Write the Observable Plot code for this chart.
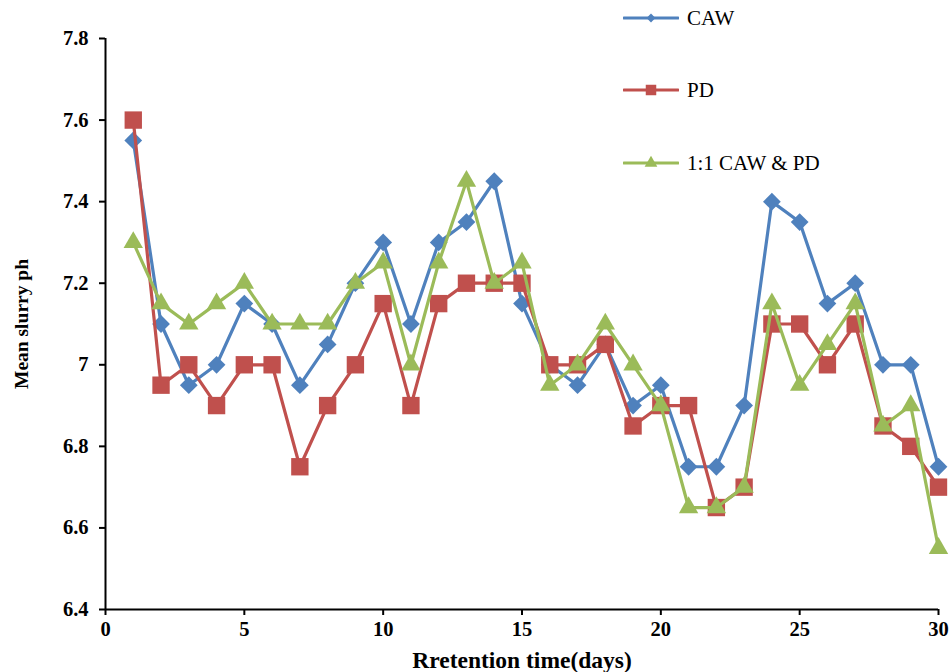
<!DOCTYPE html>
<html>
<head>
<meta charset="utf-8">
<script src="https://cdn.jsdelivr.net/npm/d3@7"></script>
<script src="https://cdn.jsdelivr.net/npm/@observablehq/plot@0.6"></script>
<style>
  html, body { margin: 0; padding: 0; background: #fff; }
  #wrap { position: relative; width: 949px; height: 672px; }
  #legend { position: absolute; left: 623px; top: 0; font-family: "Liberation Serif", "Times New Roman", serif; font-size: 21px; color: #000; }
  .item { position: absolute; left: 0; display: flex; align-items: center; white-space: nowrap; height: 30px; }
  .item svg { margin-right: 8px; }
</style>
</head>
<body>
<div id="wrap"><div id="legend"></div></div>
<script>
const days = [1,2,3,4,5,6,7,8,9,10,11,12,13,14,15,16,17,18,19,20,21,22,23,24,25,26,27,28,29,30];
const caw = [7.55,7.1,6.95,7.0,7.15,7.1,6.95,7.05,7.2,7.3,7.1,7.3,7.35,7.45,7.15,7.0,6.95,7.05,6.9,6.95,6.75,6.75,6.9,7.4,7.35,7.15,7.2,7.0,7.0,6.75];
const pd  = [7.6,6.95,7.0,6.9,7.0,7.0,6.75,6.9,7.0,7.15,6.9,7.15,7.2,7.2,7.2,7.0,7.0,7.05,6.85,6.9,6.9,6.65,6.7,7.1,7.1,7.0,7.1,6.85,6.8,6.7];
const mix = [7.3,7.15,7.1,7.15,7.2,7.1,7.1,7.1,7.2,7.25,7.0,7.25,7.45,7.2,7.25,6.95,7.0,7.1,7.0,6.9,6.65,6.65,6.7,7.15,6.95,7.05,7.15,6.85,6.9,6.55];
const seriesNames = ["CAW", "PD", "1:1 CAW & PD"];
const seriesColors = ["#4F81BD", "#C0504D", "#9BBB59"];
const seriesSymbols = ["diamond2", "square", "triangle"];
const seriesR = [8, 9.8, 7.2];
const xTicks = [0,5,10,15,20,25,30];
const yTicks = [6.4,6.6,6.8,7.0,7.2,7.4,7.6,7.8];
const xLabel = "Rretention time(days)";
const yLabel = "Mean slurry ph";

const seriesValues = [caw, pd, mix];
const marks = [];
seriesValues.forEach((vals, i) => {
  const rows = days.map((d, j) => ({day: d, ph: vals[j]}));
  marks.push(Plot.line(rows, {x: "day", y: "ph", stroke: seriesColors[i], strokeWidth: 3.2}));
  marks.push(Plot.dot(rows, {x: "day", y: "ph", fill: seriesColors[i], stroke: "none", symbol: () => seriesSymbols[i], r: seriesR[i]}));
});

const chart = Plot.plot({
  width: 949,
  height: 672,
  marginLeft: 105,
  marginRight: 11,
  marginTop: 38,
  marginBottom: 63,
  style: {fontFamily: "'Liberation Serif', 'Times New Roman', serif", fontWeight: "bold", fontSize: "20px", color: "#000", background: "#fff"},
  x: {domain: [0, 30]},
  y: {domain: [6.4, 7.8]},
  symbol: {type: "identity"},
  marks: [
    Plot.axisX({ticks: xTicks, tickSize: 6, tickPadding: 6, strokeWidth: 2, label: null, fontSize: 20.5, tickFormat: d => String(d)}),
    Plot.axisX({ticks: [], label: xLabel, labelAnchor: "center", labelArrow: "none", labelOffset: 58, fontSize: 23.5, dx: 19}),
    Plot.axisY({ticks: yTicks, tickSize: 6, tickPadding: 11, strokeWidth: 2, label: null, fontSize: 20.5, tickFormat: d => String(+d.toFixed(1))}),
    Plot.axisY({ticks: [], label: yLabel, labelAnchor: "center", labelArrow: "none", labelOffset: 91, fontSize: 19.5}),
    Plot.ruleX([0], {stroke: "#000", strokeWidth: 2}),
    Plot.ruleY([6.4], {stroke: "#000", strokeWidth: 2}),
    ...marks
  ]
});
document.getElementById("wrap").prepend(chart);

// legend
const legend = document.getElementById("legend");
const legendTops = [3, 75, 148];
seriesNames.forEach((name, i) => {
  const item = document.createElement("div");
  item.className = "item";
  item.style.top = legendTops[i] + "px";
  const sw = d3.create("svg").attr("width", 56).attr("height", 20);
  sw.append("line").attr("x1", 1).attr("x2", 55).attr("y1", 10).attr("y2", 10)
    .attr("stroke", seriesColors[i]).attr("stroke-width", 3.2).attr("stroke-linecap", "round");
  const sym = [d3.symbolDiamond2, d3.symbolSquare, d3.symbolTriangle][i];
  const sz = [50, 110, 70][i];
  sw.append("path").attr("d", d3.symbol(sym, sz)()).attr("transform", "translate(28,10)").attr("fill", seriesColors[i]);
  item.appendChild(sw.node());
  const t = document.createElement("span");
  t.textContent = name;
  item.appendChild(t);
  legend.appendChild(item);
});
</script>
</body>
</html>
